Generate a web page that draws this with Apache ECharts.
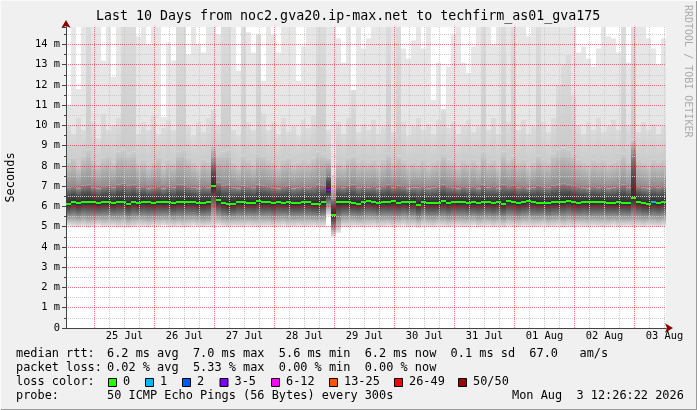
<!DOCTYPE html>
<html><head><meta charset="utf-8">
<script src="https://cdn.jsdelivr.net/npm/echarts@6/dist/echarts.min.js"></script>
<style>html,body{margin:0;padding:0;background:#f0f0f0}#c{width:697px;height:410px}</style>
</head><body><div id="c"></div>
<script>
// ---------- data ----------
const titleText = 'Last 10 Days from noc2.gva20.ip-max.net to techfirm_as01_gva175';
const dayLabels = ['25 Jul','26 Jul','27 Jul','28 Jul','29 Jul','30 Jul','31 Jul','01 Aug','02 Aug','03 Aug'];
const noonHours = [36,60,84,108,132,156,180,204,228,252];          // hours since 24 Jul 00:00
const midnightHours = [24,48,72,96,120,144,168,192,216,240];
const minorHourMarks = [18,30,36,42,54,60,66,78,84,90,102,108,114,126,132,138,150,156,162,174,180,186,198,204,210,222,228,234,246,252];
const yMinorTicks = [0.5,1.5,2.5,3.5,4.5,5.5,6.5,7.5,8.5,9.5,10.5,11.5,12.5,13.5,14.5];
const startHour = 12.6, stepHours = 2, endHour = 252.6, yMax = 14.86;

// median rtt (ms) per 2h column
const medianRtt = [
 6.12,6.23,6.15,6.23,6.23,6.2,6.15,6.22,6.22,6.15,
 6.23,6.23,6.1,6.23,6.15,6.23,6.2,6.18,6.22,6.2,
 6.23,6.15,6.2,6.2,6.23,6.2,6.15,6.15,6.2,7.0,
 6.3,6.17,6.1,6.12,6.22,6.2,6.18,6.17,6.25,6.2,
 6.2,6.15,6.23,6.18,6.2,6.15,6.15,6.2,6.2,6.12,
 6.12,6.2,6.8,5.6,6.2,6.2,6.2,6.15,6.12,6.2,
 6.27,6.2,6.15,6.23,6.2,6.25,6.18,6.23,6.2,6.23,
 6.07,6.23,6.15,6.15,6.15,6.25,6.17,6.23,6.2,6.23,
 6.15,6.2,6.18,6.2,6.2,6.15,6.23,6.12,6.25,6.23,
 6.15,6.2,6.28,6.23,6.17,6.18,6.15,6.2,6.2,6.22,
 6.28,6.2,6.15,6.22,6.2,6.2,6.22,6.22,6.17,6.15,
 6.2,6.18,6.15,6.43,6.23,6.15,6.1,6.2,6.15,6.2];
// loss class index per column (0 = no loss)
const lossIdx = [
 0,0,0,0,0,0,0,0,0,0, 0,0,0,0,0,0,0,0,0,0, 0,0,0,0,0,0,0,0,0,0,
 0,0,0,0,0,0,0,0,0,0, 0,0,0,0,0,0,0,0,0,0, 0,0,3,0,0,0,0,0,0,0,
 0,0,0,0,0,0,0,0,0,0, 0,0,0,0,0,0,0,0,0,0, 0,0,0,0,0,0,0,0,0,0,
 0,0,0,0,0,0,0,0,0,0, 0,0,0,0,0,0,0,0,0,0, 0,0,0,0,0,0,0,1,0,0];
// smoke: lowest ping
const smokeLow = [
 5.05,5.0,4.98,5.02,4.95,5.0,5.05,4.98,5.0,5.02,
 4.96,5.0,4.95,4.98,5.03,5.0,4.97,5.02,5.0,5.05,
 5.0,4.98,5.02,4.96,5.0,5.04,5.0,4.98,5.0,4.95,
 5.05,5.0,4.97,5.02,5.0,4.98,5.03,5.0,4.96,5.0,
 5.02,4.98,5.0,5.04,4.97,5.0,5.02,4.98,5.0,5.03,
 4.98,5.0,5.55,4.5,4.7,5.0,4.98,5.02,5.0,4.97,
 5.0,5.03,4.98,5.0,5.02,4.96,5.0,5.04,4.98,5.0,
 4.95,5.02,5.0,4.98,5.03,5.0,4.97,5.0,5.02,4.98,
 5.0,5.04,4.97,5.0,5.02,4.98,5.0,4.96,5.03,5.0,
 4.98,5.02,5.0,4.97,5.0,5.03,4.98,5.0,5.02,4.96,
 5.0,4.98,5.03,5.0,4.97,5.02,5.0,4.98,5.0,5.04,
 4.97,5.0,5.02,4.96,5.0,4.98,5.03,5.0,4.98,5.02];
// smoke: top of dark core
const smokeDarkTop = [
 6.95,7.0,6.9,7.05,7.1,6.95,6.9,7.0,7.05,6.95,
 7.1,7.15,7.05,7.1,6.95,7.0,6.9,6.95,7.0,6.9,
 7.0,6.95,7.1,7.1,7.0,6.95,6.9,7.0,6.95,8.2,
 7.2,7.05,7.1,6.95,6.9,7.05,7.0,6.95,7.1,7.05,
 7.0,6.95,6.9,7.0,7.05,6.9,6.95,7.0,6.95,7.0,
 7.1,7.05,7.6,6.4,7.0,6.95,7.05,7.1,6.95,7.0,
 6.95,7.0,6.9,7.0,7.1,6.95,7.05,7.0,6.9,6.95,
 6.95,7.0,6.9,6.95,7.0,7.1,7.0,6.95,6.9,7.0,
 6.95,7.0,6.9,7.1,6.95,7.0,6.9,7.1,7.0,7.05,
 6.95,7.0,6.9,6.95,7.05,7.0,6.95,7.05,7.1,7.15,
 7.1,7.05,7.0,6.95,6.9,7.0,6.95,7.0,6.9,6.95,
 7.0,7.1,6.95,8.6,7.0,6.95,6.9,7.0,6.95,7.0];
// smoke: top of medium grey
const smokeMidTop = [
 8.2,8.4,8.0,8.5,8.8,8.3,8.1,8.4,8.5,8.2,
 8.7,8.8,8.6,8.7,8.2,8.3,8.0,8.2,8.4,8.0,
 8.3,8.2,8.7,8.8,8.4,8.2,8.0,8.3,8.2,9.0,
 8.6,8.7,8.8,8.2,8.0,8.5,8.3,8.1,8.6,8.5,
 8.3,8.2,8.0,8.3,8.4,8.1,8.2,8.3,8.2,8.4,
 8.7,8.6,8.4,7.0,8.2,8.1,8.4,8.5,8.2,8.3,
 8.2,8.3,8.1,8.3,8.6,8.2,8.5,8.3,8.1,8.2,
 8.1,8.3,8.0,8.2,8.3,8.6,8.3,8.2,8.0,8.3,
 8.2,8.3,8.1,8.7,8.2,8.3,8.0,8.7,8.3,8.5,
 8.2,8.3,8.0,8.2,8.5,8.3,8.2,8.6,8.8,8.9,
 8.8,8.6,8.3,8.2,8.1,8.3,8.2,8.3,8.1,8.2,
 8.3,8.6,8.2,9.3,8.3,8.2,8.1,8.3,8.2,8.3];
// smoke: top of light-grey streak
const smokeStreakTop = [
 10.0,9.6,10.4,9.8,14.9,10.2,9.4,10.6,9.8,10.0,
 10.4,14.9,14.9,14.9,9.6,10.2,9.8,10.5,9.6,9.9,
 10.3,9.8,14.9,14.9,10.0,9.5,10.2,9.7,10.4,10.8,
 10.0,14.9,14.9,9.8,9.5,14.9,10.2,9.8,14.5,10.6,
 9.8,10.2,9.6,10.4,9.7,10.0,9.5,10.3,9.9,10.5,
 14.9,14.9,9.8,7.6,10.2,9.6,10.4,11.75,9.7,10.1,
 9.8,10.3,9.6,10.0,14.9,9.7,14.9,10.2,9.5,10.0,
 10.4,9.8,10.1,9.6,10.3,10.8,9.9,10.2,9.6,10.0,
 10.3,9.7,10.0,14.9,9.8,10.4,9.6,14.9,10.2,14.9,
 9.8,10.3,9.6,10.0,14.9,10.2,9.7,10.4,12.0,13.0,
 13.5,11.5,10.0,9.6,10.2,9.8,10.4,9.7,10.0,10.3,
 9.8,14.9,10.0,14.9,9.7,10.2,9.8,10.1,9.6,10.0];
// smoke: highest ping
const smokeMax = [
 11.0,14.9,11.8,14.9,14.9,14.9,14.9,13.2,14.9,12.4,
 14.9,14.9,14.9,14.9,14.4,14.9,14.0,14.9,14.9,10.4,
 14.1,13.2,14.9,14.9,13.5,14.9,14.0,13.6,14.9,14.9,
 14.5,14.9,14.9,14.9,12.7,14.9,14.6,13.6,14.5,12.2,
 14.9,14.5,13.6,14.9,14.9,14.9,12.2,13.9,14.9,14.9,
 14.9,14.9,14.9,14.9,14.3,13.1,14.9,11.75,14.9,13.8,
 14.3,14.9,14.9,14.9,14.9,14.9,14.9,13.8,13.3,14.2,
 14.9,13.8,14.9,11.25,13.1,10.8,12.9,14.5,14.9,13.1,
 12.6,13.9,14.9,14.9,14.9,14.0,14.9,14.9,14.9,14.9,
 14.9,14.9,14.4,14.9,14.9,14.9,14.9,14.9,14.9,14.9,
 14.9,14.9,13.6,13.9,13.3,12.9,13.8,14.9,14.4,14.3,
 13.6,14.9,13.1,14.9,14.9,14.9,14.3,13.8,13.0,14.3];

const lossColors = ['#26ff00','#00b8ff','#0059ff','#7e00ff','#ff00ff','#ff5500','#ff0000','#a10000'];
const lossLabels = ['0','1','2','3-5','6-12','13-25','26-49','50/50'];
const statLine1 = '6.2 ms avg  7.0 ms max  5.6 ms min  6.2 ms now  0.1 ms sd  67.0   am/s';
const statLine2 = '0.02 % avg  5.33 % max  0.00 % min  0.00 % now';
const probeText = '50 ICMP Echo Pings (56 Bytes) every 300s';
const dateText = 'Mon Aug  3 12:26:22 2026';

// ---------- chart ----------
const MONO = '"DejaVu Sans Mono", "Liberation Mono", monospace';
const chart = echarts.init(document.getElementById('c'), null, {renderer: 'canvas'});
const G = echarts.graphic.LinearGradient;
const gStreak = new G(0,0,0,1,[{offset:0,color:'#dcdcdc'},{offset:1,color:'#cbcbcb'}]);
const gMid = new G(0,0,0,1,[{offset:0,color:'#cbcbcb'},{offset:1,color:'#8e8e8e'}]);
const gDark = new G(0,0,0,1,[{offset:0,color:'#8e8e8e'},{offset:0.5,color:'#4e4e4e'},{offset:1,color:'#2b2b2b'}]);
const gLow = new G(0,0,0,1,[{offset:0,color:'#2b2b2b'},{offset:0.3,color:'#5c5c5c'},{offset:0.55,color:'#909090'},{offset:0.8,color:'#c2c2c2'},{offset:1,color:'#e6e6e6'}]);

const smokeData = medianRtt.map((m, i) => [startHour + i * stepHours, smokeLow[i], m, smokeDarkTop[i], smokeMidTop[i], smokeStreakTop[i], smokeMax[i]]);
const medianData = medianRtt.map((m, i) => [startHour + i * stepHours, m, lossIdx[i]]);

function colX(api, t) {
  const x0 = Math.round(api.coord([t, 0])[0]);
  const x1 = Math.round(api.coord([t + stepHours, 0])[0]);
  return [x0, x1 - x0];
}
function renderSmoke(params, api) {
  const t = api.value(0);
  const [x0, w] = colX(api, t);
  const lo = api.value(1), med = api.value(2), a = api.value(3), b = api.value(4);
  const hi = api.value(6), c = Math.min(api.value(5), hi);
  const yOf = v => api.coord([t, v])[1];
  const rect = (top, bot, fill) => ({type: 'rect', shape: {x: x0, y: yOf(top), width: w, height: yOf(bot) - yOf(top)}, style: {fill: fill}});
  return {type: 'group', children: [
    rect(hi, c, '#e6e6e6'),
    rect(c, b, gStreak),
    rect(b, a, gMid),
    rect(a, med, gDark),
    rect(med, lo, gLow)
  ]};
}
function renderMedian(params, api) {
  const t = api.value(0);
  const [x0, w] = colX(api, t);
  const y = Math.round(api.coord([t, api.value(1)])[1]);
  return {type: 'rect', shape: {x: x0, y: y - 1, width: w, height: 2}, style: {fill: lossColors[api.value(2)]}};
}

const txt = (x, y, text, extra) => Object.assign({type: 'text', x: x, y: y, silent: true,
  style: Object.assign({text: text, font: '11.9px ' + MONO, fill: '#000', align: 'left', verticalAlign: 'middle'}, extra || {})});

const boxX = [108,145,182,219.5,271,329,394,458];
const graphics = [
  {type: 'rect', shape: {x: 696, y: 0, width: 1, height: 410}, style: {fill: '#9a9a9a'}, silent: true},
  {type: 'rect', shape: {x: 0, y: 409, width: 697, height: 1}, style: {fill: '#9a9a9a'}, silent: true},
  {type: 'rect', shape: {x: 0, y: 0, width: 697, height: 1}, style: {fill: '#fafafa'}, silent: true},
  {type: 'rect', shape: {x: 0, y: 0, width: 1, height: 410}, style: {fill: '#fafafa'}, silent: true},
  txt(96, 17, titleText, {font: '13.3px ' + MONO}),
  {type: 'text', x: 688, y: 5, rotation: -Math.PI / 2, silent: true,
   style: {text: 'RRDTOOL / TOBI OETIKER', font: '10px ' + MONO, fill: '#aaaaaa', align: 'left', verticalAlign: 'middle'}},
  txt(16, 354, 'median rtt:'), txt(107, 354, statLine1),
  txt(16, 368, 'packet loss:'), txt(107, 368, statLine2),
  txt(16, 382, 'loss color:'),
  txt(16, 396, 'probe:'), txt(107, 396, probeText), txt(512, 396, dateText)
];
lossLabels.forEach((lab, k) => {
  graphics.push({type: 'rect', silent: true, shape: {x: boxX[k] + 0.5, y: 378.5, width: 8, height: 8},
    style: {fill: lossColors[k], stroke: '#000', lineWidth: 1}});
  graphics.push(txt(boxX[k] + 15, 382, lab));
});

const dotted = [1, 1];
const redGrid = 'rgba(255,0,0,0.55)';
const greyGrid = '#cccccc';
const option = {
  animation: false,
  backgroundColor: '#f0f0f0',
  grid: {left: 66, width: 600, top: 27, height: 301, show: true, backgroundColor: '#ffffff', borderWidth: 0,
         containLabel: false, outerBoundsMode: 'none'},
  xAxis: [
    { // main: labels, minor 6h grid, axis line
      type: 'value', min: startHour, max: endHour, position: 'bottom', z: 3,
      axisLine: {show: true, onZero: false, lineStyle: {color: '#444', width: 1}},
      axisTick: {show: false, customValues: minorHourMarks},
      axisLabel: {show: true, customValues: noonHours, margin: 3, color: '#000', fontFamily: MONO, fontSize: 10.4,
        formatter: v => dayLabels[noonHours.indexOf(v)] || ''},
      splitLine: {show: true, showMinLine: false, lineStyle: {color: greyGrid, width: 1, type: dotted}}
    },
    { // midnight major grid
      type: 'value', min: startHour, max: endHour, position: 'bottom', z: 4,
      axisLine: {show: false}, axisLabel: {show: false},
      axisTick: {show: false, customValues: midnightHours},
      splitLine: {show: true, lineStyle: {color: redGrid, width: 1, type: dotted}}
    },
    { // arrow
      type: 'value', min: startHour, max: endHour, position: 'bottom', z: 2,
      axisLine: {show: true, onZero: false, symbol: ['none', 'arrow'], symbolSize: [7, 8], symbolOffset: [0, 7],
        lineStyle: {color: '#8b0000', width: 1}},
      axisTick: {show: false}, axisLabel: {show: false}, splitLine: {show: false}
    }
  ],
  yAxis: [
    {
      type: 'value', min: 0, max: yMax, interval: 1, position: 'left', z: 4,
      name: 'Seconds', nameLocation: 'middle', nameGap: 49, nameRotate: 90,
      nameTextStyle: {color: '#000', fontFamily: MONO, fontSize: 11.9},
      axisLine: {show: true, onZero: false, lineStyle: {color: '#444', width: 1}},
      axisTick: {show: true, length: 4, lineStyle: {color: '#444'}},
      axisLabel: {margin: 6, color: '#000', fontFamily: MONO, fontSize: 10.4,
        formatter: v => (v === 0 ? '0' : (Number.isInteger(v) ? v + ' m' : ''))},
      splitLine: {show: true, showMinLine: false, showMaxLine: false, lineStyle: {color: redGrid, width: 1, type: dotted}}
    },
    {
      type: 'value', min: 0, max: yMax, position: 'left', z: 2,
      axisLine: {show: true, onZero: false, symbol: ['none', 'arrow'], symbolSize: [7, 8], symbolOffset: [0, 7],
        lineStyle: {color: '#8b0000', width: 1}},
      axisTick: {show: true, length: 2, customValues: yMinorTicks, lineStyle: {color: '#444'}},
      axisLabel: {show: false},
      splitLine: {show: true, lineStyle: {color: greyGrid, width: 1, type: dotted}}
    }
  ],
  series: [
    {type: 'custom', name: 'smoke', xAxisIndex: 0, yAxisIndex: 0, z: 1, clip: true, silent: true,
     renderItem: renderSmoke, data: smokeData, encode: {x: 0, y: [1, 6]}},
    {type: 'custom', name: 'median', xAxisIndex: 0, yAxisIndex: 0, z: 5, clip: true, silent: true,
     renderItem: renderMedian, data: medianData, encode: {x: 0, y: 1}}
  ],
  graphic: graphics
};
chart.setOption(option);
</script>
</body></html>
